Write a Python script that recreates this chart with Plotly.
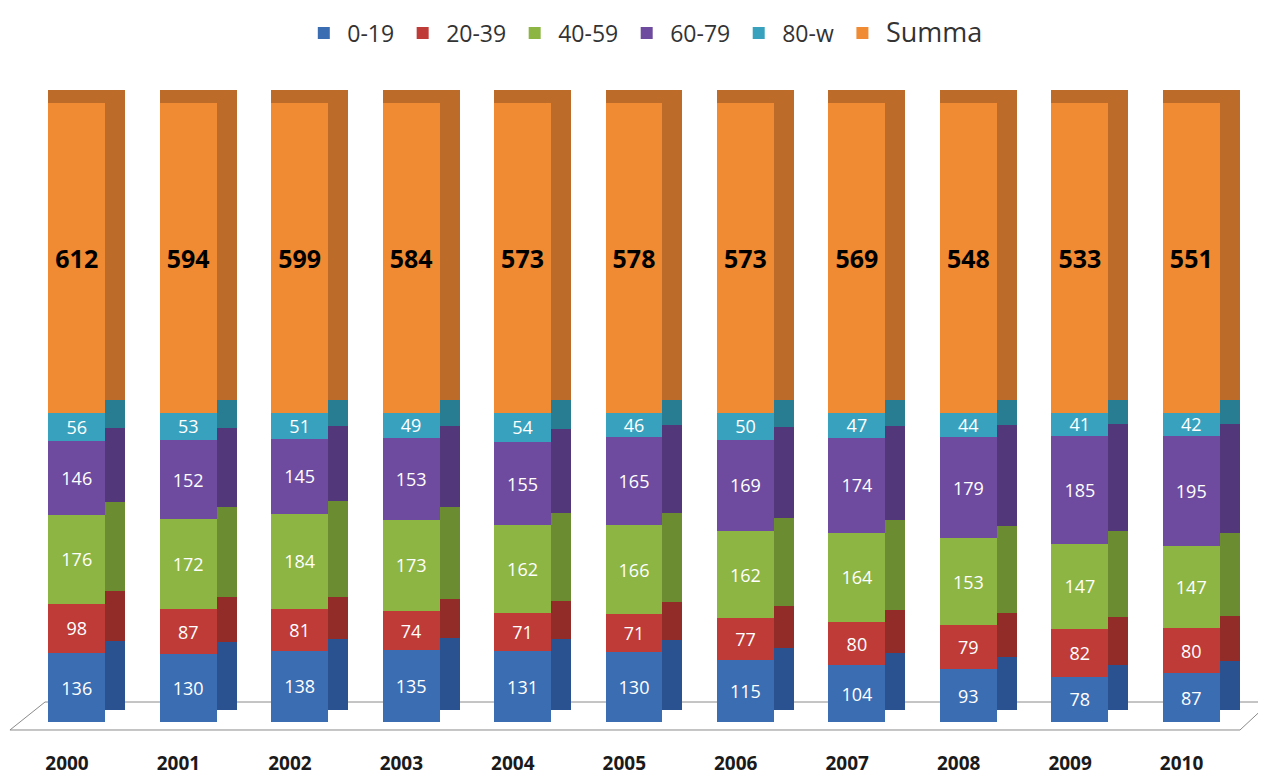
import plotly.graph_objects as go

years = ["2000", "2001", "2002", "2003", "2004", "2005", "2006", "2007", "2008", "2009", "2010"]
age_0_19 = [136, 130, 138, 135, 131, 130, 115, 104, 93, 78, 87]
age_20_39 = [98, 87, 81, 74, 71, 71, 77, 80, 79, 82, 80]
age_40_59 = [176, 172, 184, 173, 162, 166, 162, 164, 153, 147, 147]
age_60_79 = [146, 152, 145, 153, 155, 165, 169, 174, 179, 185, 195]
age_80_w = [56, 53, 51, 49, 54, 46, 50, 47, 44, 41, 42]
summa = [612, 594, 599, 584, 573, 578, 573, 569, 548, 533, 551]

series = [
    ("0-19", age_0_19, "#3B6DB3", "#2A5290"),
    ("20-39", age_20_39, "#BE3B37", "#922C29"),
    ("40-59", age_40_59, "#8DB543", "#6C8C31"),
    ("60-79", age_60_79, "#6E4B9E", "#52387A"),
    ("80-w", age_80_w, "#38A2BE", "#287D93"),
    ("Summa", summa, "#F08A33", "#BC6C28"),
]

FONT = "Open Sans, Liberation Sans, sans-serif"
FRONT_W = 0.51
DEPTH_W = 0.18

fig = go.Figure()
# back block (darker, slightly raised) -> visible as the side and top faces
for name, vals, color, dark in series:
    fig.add_trace(go.Bar(
        x=years, y=vals,
        width=FRONT_W + DEPTH_W, offset=-FRONT_W / 2,
        marker=dict(color=dark, line=dict(width=0)),
        showlegend=False, hoverinfo="skip",
    ))
# front faces (overlay subplot drawn on top)
for name, vals, color, dark in series:
    is_sum = name == "Summa"
    fig.add_trace(go.Bar(
        x=years, y=vals, xaxis="x3", yaxis="y2",
        name=('<span style="font-size:27px">Summa</span>' if is_sum else name),
        width=FRONT_W, offset=-FRONT_W / 2,
        marker=dict(color=color, line=dict(width=0)),
        text=[str(v) for v in vals],
        textposition="inside",
        insidetextanchor="middle",
        constraintext="none",
        textangle=0,
        textfont=dict(
            family=FONT,
            size=25 if is_sum else 18,
            color="black" if is_sum else "white",
            weight="bold" if is_sum else "normal",
        ),
        hoverinfo="x+y+name",
    ))

# invisible anchor trace so the year-label axis renders
fig.add_trace(go.Scatter(x=list(range(len(years))), y=[0] * len(years),
                         xaxis="x2", yaxis="y2",
                         mode="markers", marker=dict(opacity=0), showlegend=False,
                         hoverinfo="skip"))

fig.update_layout(
    barmode="stack",
    barnorm="percent",
    width=1258, height=767,
    margin=dict(l=13, r=19, t=0, b=53),
    paper_bgcolor="white",
    plot_bgcolor="rgba(0,0,0,0)",
    font=dict(family=FONT, color="#222222"),
    legend=dict(
        orientation="h",
        x=0.508, xanchor="center",
        y=0.965, yanchor="middle",
        font=dict(size=23, color="#333333"),
        itemwidth=37,
        traceorder="normal",
        bgcolor="rgba(0,0,0,0)",
    ),
    xaxis=dict(
        range=[-0.5, 10.5], visible=False,
        showgrid=False, zeroline=False, automargin=False,
    ),
    yaxis=dict(
        range=[0, 100], domain=[0.01681, 0.8852], visible=False,
        showgrid=False, zeroline=False, automargin=False,
    ),
    xaxis3=dict(
        overlaying="x", anchor="y2", range=[-0.5, 10.5], visible=False,
        showgrid=False, zeroline=False, automargin=False,
    ),
    yaxis2=dict(
        range=[0, 100], domain=[0, 0.8669], anchor="x3",
        visible=False, showgrid=False, zeroline=False, automargin=False,
    ),
    xaxis2=dict(
        overlaying="x", side="bottom", anchor="y2",
        range=[-0.4127, 10.587],
        tickmode="array",
        tickvals=list(range(len(years))),
        ticktext=years,
        showline=False, showgrid=False, zeroline=False,
        ticks="", ticklabelstandoff=28, automargin=False,
        tickfont=dict(size=19, weight="bold", color="#1a1a1a"),
    ),
    shapes=[
        dict(type="path", xref="paper", yref="paper",
             path="M -0.009,-0.0112 L 0.0196,0.02801 L 1.0188,0.02801 L 0.9943,-0.0112 Z",
             line=dict(color="#8a8a8a", width=1), fillcolor="rgba(0,0,0,0)", layer="below"),
    ],
)

fig.write_html("out.html")
